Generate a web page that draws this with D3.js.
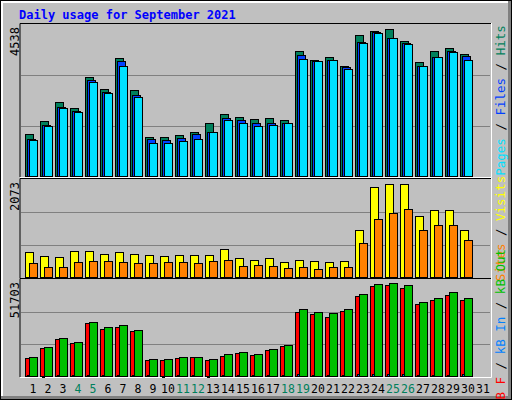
<!DOCTYPE html>
<html>
<head>
<meta charset="utf-8">
<script src="https://cdn.jsdelivr.net/npm/d3@7"></script>
<style>
  body { margin: 0; background: #fff; }
  text { font-family: "DejaVu Sans Mono", monospace; }
</style>
</head>
<body>
<svg id="chart" width="512" height="400"></svg>
<script>
// values
var days = d3.range(1, 32);
var weekends = [4, 5, 11, 12, 18, 19, 25, 26];
var hits  = [1262,1653,2224,2043,2975,2614,3546,2584,1172,1172,1232,1322,1593,1863,1773,1713,1743,1683,3756,3486,3576,3306,4237,4357,4417,4057,3426,3756,3846,3666,0];
var files = [1112,1533,2073,1940,2885,2524,3456,2434,1112,1082,1142,1262,1322,1743,1683,1593,1593,1593,3636,3456,3486,3276,4027,4327,4150,3997,3306,3580,3756,3606,0];
var pages = [1082,1502,2043,1923,2825,2494,3306,2374, 992, 992,1052,1112,1322,1683,1593,1502,1533,1593,3516,3456,3486,3216,3997,4297,4147,3967,3306,3576,3726,3486,0];
var visits = [543,457,436,565,565,500,543,500,479,457,479,479,479,608,415,372,415,329,372,350,329,350,1015,1916,1980,1980,1294,1422,1422,1015,0];
var sites  = [307,222,222,329,350,350,329,307,307,329,329,307,350,372,243,264,243,200,222,179,222,222,736,1229,1358,1444,994,1101,1101,801,0];
var kbF   = [9649,15110,20026,17659,28764,25487,26579,24395,8556,8556,9649,10195,8556,10741,12379,11287,14018,16202,34225,33133,32041,34772,42964,48425,48971,47333,38595,40779,43510,40779,0];
var kbIn  = [300,250,600,400,700,650,700,600,300,250,300,300,250,500,350,300,300,300,900,700,800,650,1000,900,1000,900,650,800,800,900,0];
var kbOut = [10195,15656,20572,18387,29310,26579,27671,24941,9102,9102,10195,10195,9102,11833,12925,11833,14564,16749,35864,34225,33679,35864,44056,49517,50063,48971,39687,41871,45148,41871,0];
var maxTop = 4538, maxMid = 2073, maxBot = 51703;

var svg = d3.select("#chart");

// outer frame
svg.append("rect").attr("x", 0).attr("y", 0).attr("width", 512).attr("height", 400).attr("fill", "#000");
svg.append("rect").attr("x", 1).attr("y", 1).attr("width", 510).attr("height", 398).attr("fill", "#808080");
svg.append("rect").attr("x", 1).attr("y", 1).attr("width", 507).attr("height", 395).attr("fill", "#fff");
svg.append("rect").attr("x", 3).attr("y", 3).attr("width", 505).attr("height", 393).attr("fill", "#c0c0c0");

svg.append("text").attr("x", 19).attr("y", 19)
    .attr("font-size", 12).attr("font-weight", "bold").attr("fill", "#0000ff")
    .text("Daily usage for September 2021");

var x = d3.scaleLinear().domain([1, 32]).range([25, 490]);

var panels = [
    { top: 25, bottom: 176, max: maxTop, label: "4538",
      series: [{ v: hits, c: "#00805c", dx: 0, w: 8 }, { v: files, c: "#0040ff", dx: 2, w: 8 }, { v: pages, c: "#00e0ff", dx: 4, w: 8 }],
      legend: [["Pages", "#00e0ff"], [" / ", "#000"], ["Files", "#0040ff"], [" / ", "#000"], ["Hits", "#00805c"]] },
    { top: 180, bottom: 277, max: maxMid, label: "2073",
      series: [{ v: visits, c: "#ffff00", dx: 0, w: 8 }, { v: sites, c: "#ff8000", dx: 4, w: 8 }],
      legend: [["Sites", "#ff8000"], [" / ", "#000"], ["Visits", "#ffff00"]] },
    { top: 280, bottom: 376, max: maxBot, label: "51703",
      series: [{ v: kbF, c: "#ff0000", dx: 0, w: 8 }, { v: kbOut, c: "#00c000", dx: 4, w: 8 }, { v: kbIn, c: "#0080ff", dx: 2, w: 2 }],
      legend: [["kB F", "#ff0000"], [" / ", "#000"], ["kB In", "#0080ff"], [" / ", "#000"], ["kB Out", "#00c000"]] }
];

panels.forEach(function (p) {
    var y = d3.scaleLinear().domain([0, p.max]).range([p.bottom, p.top]);
    var g = svg.append("g");
    // inset plot area
    g.append("rect").attr("x", 20).attr("y", p.top - 2).attr("width", 471).attr("height", p.bottom - p.top + 3)
        .attr("fill", "#c0c0c0").attr("stroke", "none");
    g.append("path").attr("d", "M20," + (p.bottom + 1) + "V" + (p.top - 1.5) + "H491")
        .attr("stroke", "#000").attr("fill", "none");
    g.append("path").attr("d", "M20," + (p.bottom + 1.5) + "H491.5V" + (p.top - 2))
        .attr("stroke", "#fff").attr("fill", "none");
    [1 / 3, 2 / 3].forEach(function (f) {
        var gy = Math.round(y(p.max * f)) + 0.5;
        g.append("line").attr("x1", 21).attr("x2", 490).attr("y1", gy).attr("y2", gy)
            .attr("stroke", "#808080");
    });
    p.series.forEach(function (s) {
        g.selectAll(null).data(days.filter(function (d) { return s.v[d - 1] > 0; }))
            .enter().append("rect")
            .attr("x", function (d) { return x(d) + s.dx + 0.5; })
            .attr("y", function (d) { return Math.round(y(s.v[d - 1])) + 0.5; })
            .attr("width", s.w)
            .attr("height", function (d) { return Math.max(1, p.bottom - Math.round(y(s.v[d - 1]))); })
            .attr("fill", s.c).attr("stroke", "#000");
    });
    svg.append("text").attr("transform", "translate(19," + (p.top + 2) + ") rotate(-90)")
        .attr("text-anchor", "end").attr("font-size", 12).attr("fill", "#000").text(p.label);
    var lt = svg.append("text").attr("transform", "translate(505," + (p.top + p.bottom) / 2 + ") rotate(-90)")
        .attr("text-anchor", "middle").attr("font-size", 12.5);
    p.legend.forEach(function (l) {
        lt.append("tspan").attr("fill", l[1]).text(l[0]);
    });
});

svg.selectAll(".day").data(days).enter().append("text")
    .attr("class", "day")
    .attr("x", function (d) { return x(d) + 8; })
    .attr("y", 393)
    .attr("text-anchor", "middle").attr("font-size", 11.5)
    .attr("fill", function (d) { return weekends.indexOf(d) >= 0 ? "#00805c" : "#000"; })
    .text(function (d) { return d; });
</script>
</body>
</html>
